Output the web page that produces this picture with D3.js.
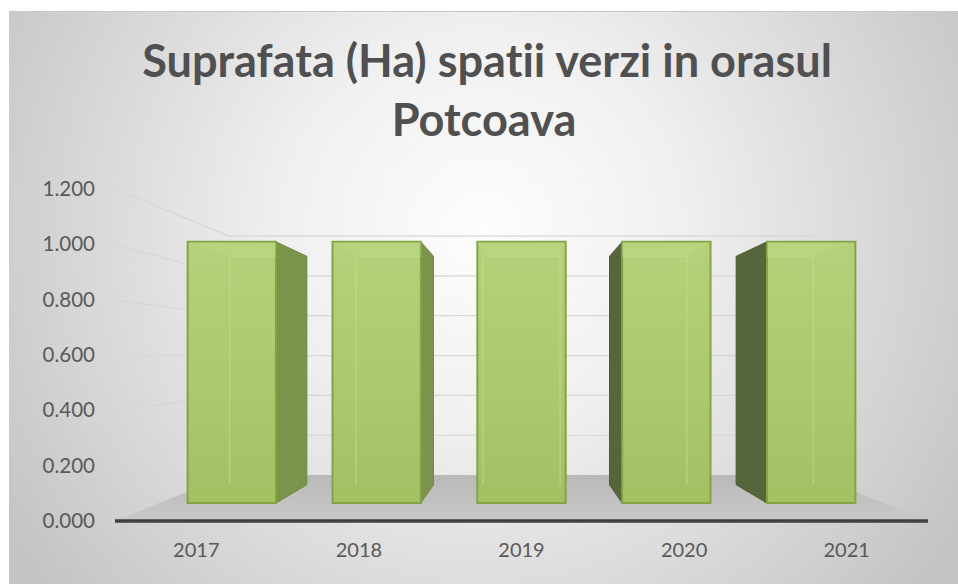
<!DOCTYPE html>
<html>
<head>
<meta charset="utf-8">
<script src="https://cdn.jsdelivr.net/npm/d3@7/dist/d3.min.js"></script>
<style>
  html, body { margin: 0; padding: 0; background: #ffffff; }
  svg { display: block; }
  text { font-family: Lato, "Open Sans", "Liberation Sans", sans-serif; font-variant-ligatures: none; }
</style>
</head>
<body>
<svg id="chart" width="958" height="584"></svg>
<script>
// Chart data
const titleLines = ["Suprafata (Ha) spatii verzi in orasul", "Potcoava"];
const years = ["2017", "2018", "2019", "2020", "2021"];
const values = [1.06, 1.06, 1.06, 1.06, 1.06];
const yTicks = [0, 0.2, 0.4, 0.6, 0.8, 1.0, 1.2];

const W = 958, H = 584;
const svg = d3.select("#chart");
const defs = svg.append("defs");

// Panel background: soft radial light
const bg = defs.append("radialGradient").attr("id", "bgGrad")
  .attr("gradientUnits", "userSpaceOnUse")
  .attr("cx", 482).attr("cy", 230).attr("r", 560);
bg.append("stop").attr("offset", 0).attr("stop-color", "#fdfdfd");
bg.append("stop").attr("offset", 0.35).attr("stop-color", "#f0f0f0");
bg.append("stop").attr("offset", 1).attr("stop-color", "#c4c4c4");

const floorGrad = defs.append("linearGradient").attr("id", "floorGrad")
  .attr("x1", 0).attr("y1", 0).attr("x2", 0).attr("y2", 1);
floorGrad.append("stop").attr("offset", 0).attr("stop-color", "#b9b9b9");
floorGrad.append("stop").attr("offset", 1).attr("stop-color", "#c8c8c8");

const faceGrad = defs.append("linearGradient").attr("id", "faceGrad")
  .attr("x1", 0).attr("y1", 0).attr("x2", 0).attr("y2", 1);
faceGrad.append("stop").attr("offset", 0).attr("stop-color", "#b5d27a");
faceGrad.append("stop").attr("offset", 1).attr("stop-color", "#a3c163");

svg.append("rect").attr("x", 9).attr("y", 11).attr("width", W - 9).attr("height", H - 11)
  .attr("fill", "url(#bgGrad)");
svg.append("line").attr("x1", 9).attr("x2", W).attr("y1", 11.5).attr("y2", 11.5)
  .attr("stroke", "#c9c9c9").attr("stroke-width", 1);

// Scales: value axis on the front plane, categories across the front edge,
// depth maps front (0) to back wall (1) as a perspective factor.
const yFront = d3.scaleLinear().domain([0, 1.2]).range([521, 189]);
const x = d3.scaleBand().domain(years).range([115, 928])
  .paddingInner(0.39).paddingOuter(0.195);
const depth = d3.scaleLinear().domain([0, 1]).range([1, 0.72]);
const vp = { x: (115 + 928) / 2, y: 357 };

function P(xf, v, z) {
  const s = depth(z);
  return [vp.x + (xf - vp.x) * s, vp.y + (yFront(v) - vp.y) * s];
}
const poly = pts => "M" + pts.map(p => p.join(",")).join("L") + "Z";
const [x0, x1] = x.range();

// Floor
svg.append("path")
  .attr("d", poly([P(x0, 0, 0), P(x1, 0, 0), P(x1, 0, 1), P(x0, 0, 1)]))
  .attr("fill", "url(#floorGrad)");

// Gridlines on the back wall and the left wall
const grid = svg.append("g").attr("stroke", "#d6d6d6").attr("stroke-width", 1.2).attr("fill", "none");
yTicks.filter(t => t > 0).forEach(t => {
  grid.append("path").attr("d", "M" + P(x0, t, 0) + "L" + P(x0, t, 1) + "L" + P(x1, t, 1));
});

// Bars as perspective boxes
const zf = 0.39, zb = 0.79;
const bars = svg.append("g");
years.forEach((yr, i) => {
  const v = values[i];
  const xl = x(yr), xr = xl + x.bandwidth();
  const g = bars.append("g");
  const front = [P(xl, 0, zf), P(xr, 0, zf), P(xr, v, zf), P(xl, v, zf)];

  if (xr < vp.x) {
    g.append("path")
      .attr("d", poly([P(xr, 0, zf), P(xr, 0, zb), P(xr, v, zb), P(xr, v, zf)]))
      .attr("fill", "#7b944b").attr("stroke", "#6f8a3c").attr("stroke-width", 1);
  }
  if (xl > vp.x) {
    g.append("path")
      .attr("d", poly([P(xl, 0, zf), P(xl, 0, zb), P(xl, v, zb), P(xl, v, zf)]))
      .attr("fill", "#57663a").attr("stroke", "#4f6033").attr("stroke-width", 1);
  }

  g.append("path").attr("d", poly(front))
    .attr("fill", "url(#faceGrad)")
    .attr("stroke", "#84a444").attr("stroke-width", 2);

  // Back edges seen through the translucent front face
  const clipId = "clip" + i;
  defs.append("clipPath").attr("id", clipId).append("path").attr("d", poly(front));
  const bl0 = P(xl, 0, zb), blv = P(xl, v, zb), brv = P(xr, v, zb), br0 = P(xr, 0, zb);
  g.append("path")
    .attr("d", "M" + bl0 + "L" + blv + "L" + brv + "L" + br0)
    .attr("clip-path", "url(#" + clipId + ")")
    .attr("fill", "none").attr("stroke", "#c6df92").attr("stroke-opacity", 0.5)
    .attr("stroke-width", 1.5);
  g.append("path")
    .attr("d", poly([P(xl, v, zf), P(xr, v, zf), brv, blv]))
    .attr("clip-path", "url(#" + clipId + ")")
    .attr("fill", "#c2dc8c").attr("fill-opacity", 0.3);
});

// Category axis (front edge of the floor)
const xAxis = svg.append("g").attr("transform", "translate(0,521)")
  .call(d3.axisBottom(x).tickSize(0).tickPadding(22));
xAxis.select(".domain").remove();
xAxis.selectAll("text").attr("font-size", 20).attr("fill", "#595959")
  .attr("font-family", "Lato, 'Open Sans', sans-serif");
svg.append("line").attr("x1", x0).attr("x2", x1).attr("y1", 521).attr("y2", 521)
  .attr("stroke", "#404040").attr("stroke-width", 3.5);

// Value axis labels
const yAxis = svg.append("g").attr("transform", "translate(99,0)")
  .call(d3.axisLeft(yFront).tickValues(yTicks).tickFormat(d3.format(".3f"))
    .tickSize(0).tickPadding(4));
yAxis.select(".domain").remove();
yAxis.selectAll("text").attr("font-size", 20.5).attr("fill", "#595959")
  .attr("font-family", "Lato, 'Open Sans', sans-serif");

// Title, sized so the first line spans its full width
const title = svg.append("g").attr("fill", "#505050").attr("font-weight", "bold");
const t1 = title.append("text").attr("x", 487).attr("y", 77).attr("text-anchor", "middle")
  .attr("font-size", 44).text(titleLines[0]);
const w = t1.node().getComputedTextLength();
const fs = 44 * 690 / w;
t1.attr("font-size", fs);
title.append("text").attr("x", 484).attr("y", 136).attr("text-anchor", "middle")
  .attr("font-size", fs).text(titleLines[1]);
</script>
</body>
</html>
